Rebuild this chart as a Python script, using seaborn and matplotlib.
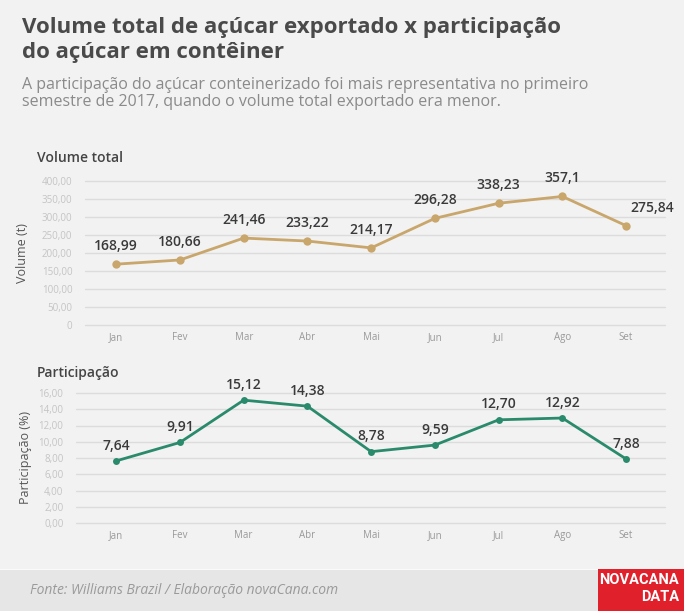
import matplotlib
matplotlib.use("Agg")
import matplotlib.pyplot as plt
import matplotlib.patches as patches
import seaborn as sns
import pandas as pd

# data
meses = ["Jan", "Fev", "Mar", "Abr", "Mai", "Jun", "Jul", "Ago", "Set"]
volume = [168.99, 180.66, 241.46, 233.22, 214.17, 296.28, 338.23, 357.1, 275.84]
volume_labels = ["168,99", "180,66", "241,46", "233,22", "214,17", "296,28", "338,23", "357,1", "275,84"]
participacao = [7.64, 9.91, 15.12, 14.38, 8.78, 9.59, 12.70, 12.92, 7.88]
participacao_labels = ["7,64", "9,91", "15,12", "14,38", "8,78", "9,59", "12,70", "12,92", "7,88"]
vol_ticks = [0, 50, 100, 150, 200, 250, 300, 350, 400]
vol_ticklabels = ["0", "50,00", "100,00", "150,00", "200,00", "250,00", "300,00", "350,00", "400,00"]
part_ticks = [0, 2, 4, 6, 8, 10, 12, 14, 16]
part_ticklabels = ["0,00", "2,00", "4,00", "6,00", "8,00", "10,00", "12,00", "14,00", "16,00"]

sns.set_style("white")
plt.rcParams['font.family'] = ['Open Sans', 'DejaVu Sans']

W, H = 684, 611
BG = "#f2f2f2"
fig = plt.figure(figsize=(W / 100, H / 100), dpi=100, facecolor=BG)

def px_axes(x0, y0, x1, y1):
    # y0 = top, y1 = bottom, in pixels from top
    return fig.add_axes([x0 / W, 1 - y1 / H, (x1 - x0) / W, (y1 - y0) / H])

def style_axes(ax, ticks, ticklabels, ylim, xlim, pad):
    ax.set_facecolor("none")
    for s in ax.spines.values():
        s.set_visible(False)
    ax.set_ylim(*ylim)
    ax.set_xlim(*xlim)
    ax.set_yticks(ticks)
    ax.set_yticklabels(ticklabels, fontsize=7, color="#c4c4c4")
    ax.set_xticks(range(len(meses)))
    ax.set_xticklabels(meses, fontsize=7, color="#999999")
    ax.tick_params(axis="both", length=0)
    ax.tick_params(axis="y", pad=pad)
    ax.tick_params(axis="x", pad=5)
    for t in ticks:
        ax.axhline(t, color="#dcdcdc", lw=1, zorder=0, clip_on=False)
    ax.set_xlabel("")

df_vol = pd.DataFrame({"mes": range(len(meses)), "valor": volume})
df_part = pd.DataFrame({"mes": range(len(meses)), "valor": participacao})

# top panel - volume
ax1 = px_axes(85, 181, 665, 325)
sns.lineplot(data=df_vol, x="mes", y="valor", ax=ax1, color="#c9a66b", lw=2,
             marker="o", markersize=6, markeredgewidth=0, clip_on=False)
style_axes(ax1, vol_ticks, vol_ticklabels, (0, 400), (-0.49, 8.61), 9)
ax1.set_ylabel("Volume (t)", fontsize=9, color="#555555", labelpad=9)
for i, (v, lab) in enumerate(zip(volume, volume_labels)):
    dx = 19 if i == len(volume) - 1 else 0
    ax1.annotate(lab, (i, v), textcoords="offset points", xytext=(dx, 8),
                 ha="center", va="bottom", fontsize=10, fontweight="semibold", color="#3a3a3a")

# bottom panel - participacao
ax2 = px_axes(76, 393, 665, 523)
sns.lineplot(data=df_part, x="mes", y="valor", ax=ax2, color="#2a8a6c", lw=2,
             marker="o", markersize=5, markeredgewidth=0, clip_on=False)
style_axes(ax2, part_ticks, part_ticklabels, (0, 16), (-0.63, 8.61), 9)
ax2.set_ylabel("Participação (%)", fontsize=9, color="#555555", labelpad=5)
for i, (v, lab) in enumerate(zip(participacao, participacao_labels)):
    ax2.annotate(lab, (i, v), textcoords="offset points", xytext=(0, 6),
                 ha="center", va="bottom", fontsize=10, fontweight="semibold", color="#3a3a3a")

# titles
fig.text(22 / W, 1 - 17 / H, "Volume total de açúcar exportado x participação\ndo açúcar em contêiner",
         ha="left", va="top", fontsize=16, fontweight="bold", color="#4a4a4a", linespacing=1.25)
fig.text(22 / W, 1 - 77 / H,
         "A participação do açúcar conteinerizado foi mais representativa no primeiro\n"
         "semestre de 2017, quando o volume total exportado era menor.",
         ha="left", va="top", fontsize=11.5, color="#8a8a8a", linespacing=1.1)
fig.text(37 / W, 1 - 158 / H, "Volume total", ha="left", va="center",
         fontsize=10, fontweight="semibold", color="#444444")
fig.text(37 / W, 1 - 373 / H, "Participação", ha="left", va="center",
         fontsize=10, fontweight="semibold", color="#444444")

# footer band
fig.patches.append(patches.Rectangle((0, 0), 1, 41 / H, transform=fig.transFigure,
                                     facecolor="#e6e6e6", edgecolor="none", zorder=0))
fig.patches.append(patches.Rectangle((0, 41 / H), 1, 1.2 / H, transform=fig.transFigure,
                                     facecolor="#fafafa", edgecolor="none", zorder=0))
fig.text(30 / W, 1 - 591 / H, "Fonte: Williams Brazil / Elaboração novaCana.com",
         ha="left", va="center", fontsize=10, style="italic", color="#9a9a9a")

# logo
fig.patches.append(patches.Rectangle((598 / W, 0), 86 / W, 42 / H, transform=fig.transFigure,
                                     facecolor="#e0202a", edgecolor="none", zorder=1))
fig.text(679 / W, 1 - 580 / H, "NOVACANA", ha="right", va="center", fontsize=10.5,
         fontweight="bold", color="white", family=["Roboto", "DejaVu Sans"])
fig.text(679 / W, 1 - 597 / H, "DATA", ha="right", va="center", fontsize=10.5,
         fontweight="bold", color="white", family=["Roboto", "DejaVu Sans"])

fig.savefig("out.png", dpi=100, facecolor=BG)
